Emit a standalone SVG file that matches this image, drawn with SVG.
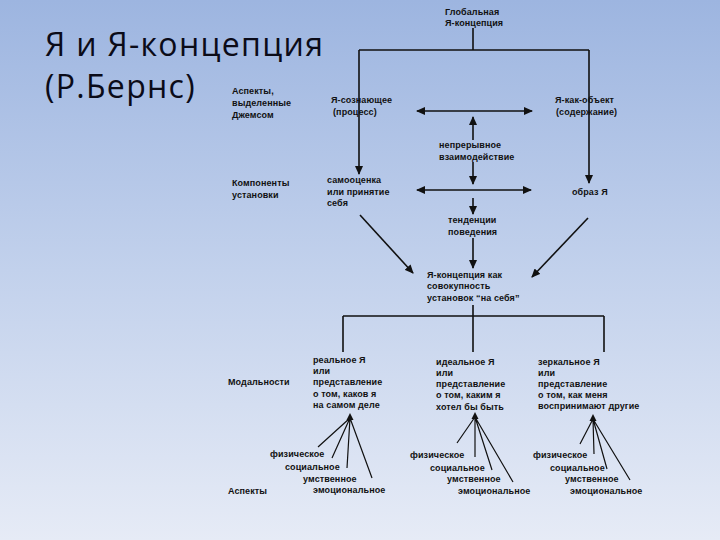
<svg xmlns="http://www.w3.org/2000/svg" width="720" height="540" viewBox="0 0 720 540">
<defs>
<linearGradient id="bg" x1="0" y1="0" x2="0" y2="1">
<stop offset="0" stop-color="#9db5e0"/>
<stop offset="0.5" stop-color="#c2d1ec"/>
<stop offset="1" stop-color="#e6ebf6"/>
</linearGradient>
<marker id="ah" markerUnits="userSpaceOnUse" markerWidth="9" markerHeight="8" refX="8" refY="4" orient="auto-start-reverse">
<path d="M0,0 L9,4 L0,8 Z" fill="#111"/>
</marker>
<style>
.t{font-family:"Liberation Sans",Arial,sans-serif;font-size:9px;font-weight:bold;fill:#111;letter-spacing:0.1px}
.title{font-family:"Open Sans","Noto Sans",sans-serif;font-size:32px;fill:#0b0b18;letter-spacing:1.3px}
.c{stroke:#111;stroke-width:1.6;fill:none}
.a{marker-end:url(#ah)}
.d{marker-start:url(#ah);marker-end:url(#ah)}
.f{stroke:#111;stroke-width:1.2;fill:none}
</style>
</defs>
<rect width="720" height="540" fill="url(#bg)"/>
<g id="title">
<text class="title" x="45" y="56">Я и Я-концепция</text>
<text class="title" x="45" y="98">(Р.Бернс)</text>
</g>
<g id="connectors">
<path class="c" d="M473,28 V50 M359,50 H589"/>
<line class="c a" x1="359" y1="50" x2="359" y2="174"/>
<line class="c a" x1="589" y1="50" x2="589" y2="183"/>
<line class="c d" x1="417" y1="111" x2="532" y2="111"/>
<line class="c a" x1="473" y1="140" x2="473" y2="117"/>
<line class="c a" x1="473" y1="162" x2="473" y2="184"/>
<line class="c d" x1="417" y1="190" x2="531" y2="190"/>
<line class="c a" x1="473" y1="198" x2="473" y2="214"/>
<line class="c a" x1="473" y1="238" x2="473" y2="268"/>
<line class="c a" x1="360" y1="215" x2="413" y2="273"/>
<line class="c a" x1="588" y1="218" x2="532" y2="277"/>
<path class="c" d="M473,305 V352 M343,316 H604 M343,316 V352 M604,316 V352"/>
<g id="fan1">
<path class="f" d="M350,418 L318,447 M350,418 L332,458 M350,418 L347,468 M350,418 L372,478"/>
<path d="M350,413 L353.5,420 L346.5,420 Z" fill="#111"/>
</g>
<g id="fan2">
<path class="f" d="M475,417 L457,443 M475,417 L475,457 M475,417 L492,470 M475,417 L513,482"/>
<path d="M475,412 L478.5,419 L471.5,419 Z" fill="#111"/>
</g>
<g id="fan3">
<path class="f" d="M593,419 L580,444 M593,419 L594,454 M593,419 L607,469 M593,419 L630,480"/>
<path d="M593,414 L596.5,421 L589.5,421 Z" fill="#111"/>
</g>
</g>
<g id="global"><text class="t" x="445" y="15">Глобальная</text><text class="t" x="445" y="26">Я-концепция</text></g>
<g id="label-james"><text class="t" x="232" y="94">Аспекты,</text><text class="t" x="232" y="106">выделенные</text><text class="t" x="232" y="118">Джемсом</text></g>
<g id="self-knowing"><text class="t" x="331" y="103">Я-сознающее</text><text class="t" x="333" y="115">(процесс)</text></g>
<g id="self-object"><text class="t" x="555" y="103">Я-как-объект</text><text class="t" x="556" y="115">(содержание)</text></g>
<g id="interaction"><text class="t" x="439" y="148">непрерывное</text><text class="t" x="439" y="160">взаимодействие</text></g>
<g id="label-components"><text class="t" x="232" y="186">Компоненты</text><text class="t" x="232" y="198">установки</text></g>
<g id="self-esteem"><text class="t" x="327" y="183">самооценка</text><text class="t" x="327" y="195">или принятие</text><text class="t" x="327" y="206">себя</text></g>
<g id="self-image"><text class="t" x="572" y="195">образ Я</text></g>
<g id="behavior"><text class="t" x="448" y="223">тенденции</text><text class="t" x="448" y="235">поведения</text></g>
<g id="self-concept"><text class="t" x="427" y="278">Я-концепция как</text><text class="t" x="427" y="289">совокупность</text><text class="t" x="427" y="301">установок “на себя”</text></g>
<g id="label-modal"><text class="t" x="228" y="385">Модальности</text></g>
<g id="real-self"><text class="t" x="313" y="363">реальное Я</text><text class="t" x="313" y="374">или</text><text class="t" x="313" y="385">представление</text><text class="t" x="313" y="397">о том, каков я</text><text class="t" x="313" y="408">на самом деле</text></g>
<g id="ideal-self"><text class="t" x="436" y="365">идеальное Я</text><text class="t" x="436" y="376">или</text><text class="t" x="436" y="387">представление</text><text class="t" x="436" y="398">о том, каким я</text><text class="t" x="436" y="410">хотел бы быть</text></g>
<g id="mirror-self"><text class="t" x="538" y="365">зеркальное Я</text><text class="t" x="538" y="376">или</text><text class="t" x="538" y="387">представление</text><text class="t" x="538" y="398">о том, как меня</text><text class="t" x="538" y="409">воспринимают другие</text></g>
<g id="aspects1"><text class="t" x="270" y="457">физическое</text><text class="t" x="285" y="470">социальное</text><text class="t" x="303" y="482">умственное</text><text class="t" x="313" y="493">эмоциональное</text></g>
<g id="aspects2"><text class="t" x="410" y="458">физическое</text><text class="t" x="430" y="471">социальное</text><text class="t" x="447" y="482">умственное</text><text class="t" x="458" y="494">эмоциональное</text></g>
<g id="aspects3"><text class="t" x="533" y="458">физическое</text><text class="t" x="550" y="471">социальное</text><text class="t" x="565" y="482">умственное</text><text class="t" x="570" y="494">эмоциональное</text></g>
<g id="label-aspects"><text class="t" x="228" y="494">Аспекты</text></g>
</svg>
